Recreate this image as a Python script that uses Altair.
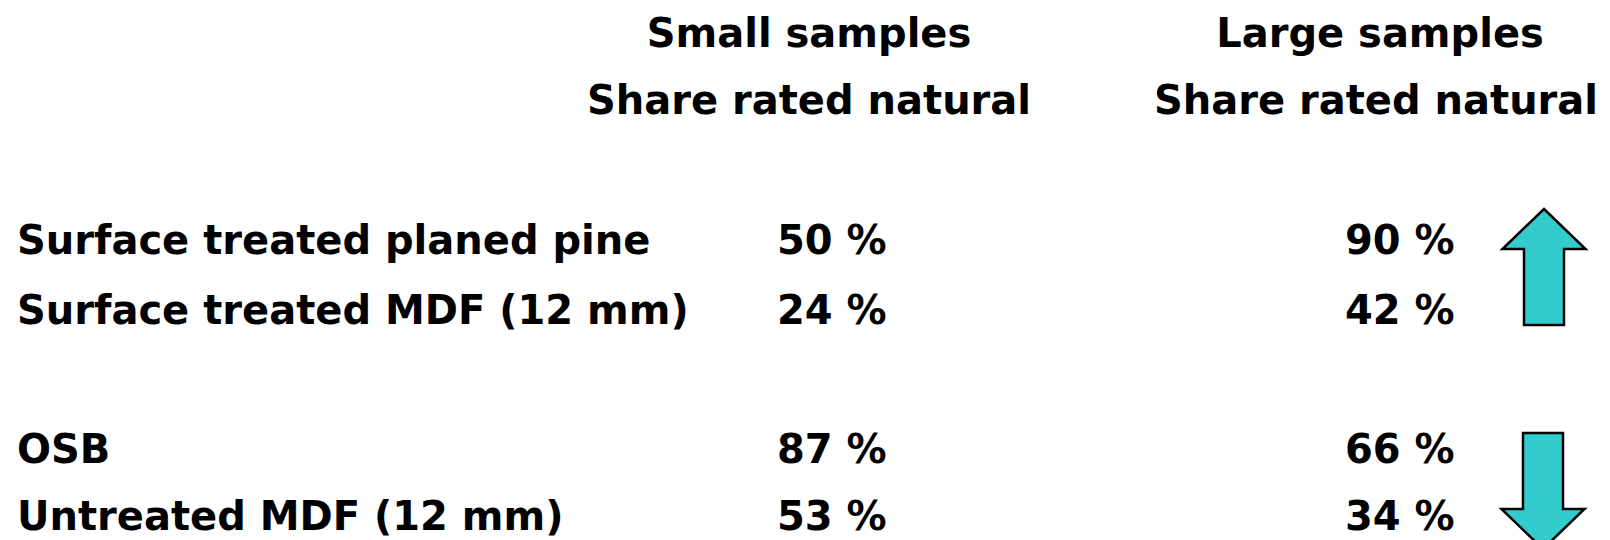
import altair as alt
import pandas as pd

# ---- data ----
materials = [
    "Surface treated planed pine",
    "Surface treated MDF (12 mm)",
    "OSB",
    "Untreated MDF (12 mm)",
]
small_share = [50, 24, 87, 53]
large_share = [90, 42, 66, 34]
header_small = ["Small samples", "Share rated natural"]
header_large = ["Large samples", "Share rated natural"]
trend = ["up", "down"]

# ---- layout (page pixel coordinates) ----
row_y = [254, 324, 463, 530]
head_y = [46.5, 114]
label_x = 17
small_x = 777
large_x = 1345
head_small_x = [809, 809]
head_large_x = [1380, 1376]
arrow_x = [1544, 1543]
arrow_y = [267, 491]

FONT = "DejaVu Sans"
FS = 40

rows = []
for i, m in enumerate(materials):
    rows.append({"x": label_x, "y": row_y[i], "t": m})
    rows.append({"x": small_x, "y": row_y[i], "t": f"{small_share[i]} %"})
    rows.append({"x": large_x, "y": row_y[i], "t": f"{large_share[i]} %"})
heads = []
for i in range(2):
    heads.append({"x": head_small_x[i], "y": head_y[i], "t": header_small[i]})
    heads.append({"x": head_large_x[i], "y": head_y[i], "t": header_large[i]})
arrows = pd.DataFrame({"x": arrow_x, "y": arrow_y, "dir": trend})

xs = alt.Scale(domain=[8, 1602], nice=False, zero=False)
ys = alt.Scale(domain=[540, 8], nice=False, zero=False)

base_enc = dict(
    x=alt.X("x:Q", scale=xs, axis=None),
    y=alt.Y("y:Q", scale=ys, axis=None),
    text="t:N",
)

body = alt.Chart(pd.DataFrame(rows)).mark_text(
    font=FONT, fontSize=FS, fontWeight="bold", align="left",
    baseline="alphabetic", color="black",
).encode(**base_enc)

header = alt.Chart(pd.DataFrame(heads)).mark_text(
    font=FONT, fontSize=FS, fontWeight="bold", align="center",
    baseline="alphabetic", color="black",
).encode(**base_enc)

up_path = "M0,-58 L41.5,-18 L20,-18 L20,58 L-20,58 L-20,-18 L-41.5,-18 Z"
down_path = "M0,58 L41.5,18 L20,18 L20,-58 L-20,-58 L-20,18 L-41.5,18 Z"

arrow = alt.Chart(arrows).mark_point(
    filled=True, fill="#33CCCC", stroke="black", strokeWidth=2.5,
    opacity=1, size=4,
).encode(
    x=alt.X("x:Q", scale=xs, axis=None),
    y=alt.Y("y:Q", scale=ys, axis=None),
    shape=alt.Shape("dir:N", scale=alt.Scale(domain=["up", "down"],
                    range=[up_path, down_path]), legend=None),
)

chart = alt.layer(arrow, body, header).properties(
    width=1594, height=532,
    autosize=alt.AutoSizeParams(type="none"),
    padding=0, background="white",
).configure_view(stroke=None)

chart.save("out.html", embed_options={"renderer": "svg", "actions": False})
